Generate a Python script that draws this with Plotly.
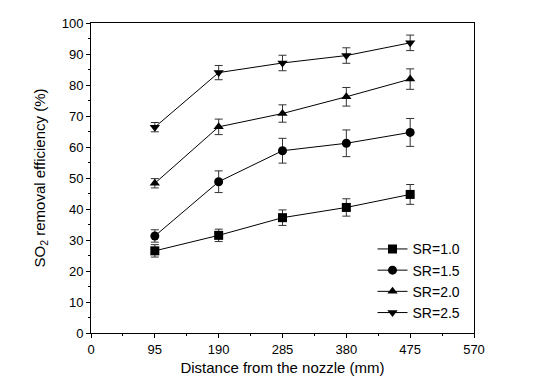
import plotly.graph_objects as go

distance = [95, 190, 285, 380, 475]
sr_labels = ["SR=1.0", "SR=1.5", "SR=2.0", "SR=2.5"]
eff_sr10 = [26.5, 31.5, 37.2, 40.5, 44.7]
eff_sr15 = [31.3, 48.8, 58.8, 61.2, 64.7]
eff_sr20 = [48.3, 66.5, 70.8, 76.2, 81.9]
eff_sr25 = [66.4, 84.0, 87.1, 89.5, 93.6]
err_sr10 = [2.0, 2.0, 2.5, 2.8, 3.2]
err_sr15 = [2.0, 3.5, 4.0, 4.3, 4.5]
err_sr20 = [1.5, 2.5, 2.8, 3.0, 3.3]
err_sr25 = [1.5, 2.3, 2.5, 2.5, 2.5]

series = [
    (sr_labels[0], eff_sr10, err_sr10, "square"),
    (sr_labels[1], eff_sr15, err_sr15, "circle"),
    (sr_labels[2], eff_sr20, err_sr20, "triangle-up"),
    (sr_labels[3], eff_sr25, err_sr25, "triangle-down"),
]

fig = go.Figure()
for nome, y, err, simbolo in series:
    fig.add_trace(go.Scatter(
        x=distance, y=y, name=nome, mode="lines+markers",
        line=dict(color="black", width=1),
        marker=dict(symbol=simbolo, size=9, color="black"),
        error_y=dict(type="data", array=err, color="#333333", thickness=1, width=4),
    ))

# a página tem margem de 8px no body, então a figura é um pouco menor
fig.update_layout(
    width=540, height=382,
    margin=dict(l=83, r=74, t=15, b=57),
    plot_bgcolor="white", paper_bgcolor="white",
    font=dict(family="Liberation Sans, Arial, sans-serif", size=13, color="black"),
    showlegend=True,
    legend=dict(
        x=0.735, y=0.015, xanchor="left", yanchor="bottom",
        bgcolor="rgba(0,0,0,0)", font=dict(size=14),
        tracegroupgap=0, itemwidth=30,
    ),
)
fig.update_xaxes(
    range=[0, 570], tick0=0, dtick=95, automargin=False,
    showline=True, linecolor="black", linewidth=1, mirror=True,
    ticks="outside", ticklen=4, tickcolor="black",
    minor=dict(ticks="outside", ticklen=2, dtick=47.5, tickcolor="black"),
    showgrid=False, zeroline=False,
    title=dict(text="Distance from the nozzle (mm)", font=dict(size=15), standoff=6),
)
fig.update_yaxes(
    range=[0, 100], tick0=0, dtick=10, automargin=False,
    showline=True, linecolor="black", linewidth=1, mirror=True,
    ticks="outside", ticklen=4, tickcolor="black",
    minor=dict(ticks="outside", ticklen=2, dtick=5, tickcolor="black"),
    showgrid=False, zeroline=False,
    title=dict(text="SO<sub>2</sub> removal efficiency (%)", font=dict(size=15), standoff=12),
)

fig.write_html("out.html")
